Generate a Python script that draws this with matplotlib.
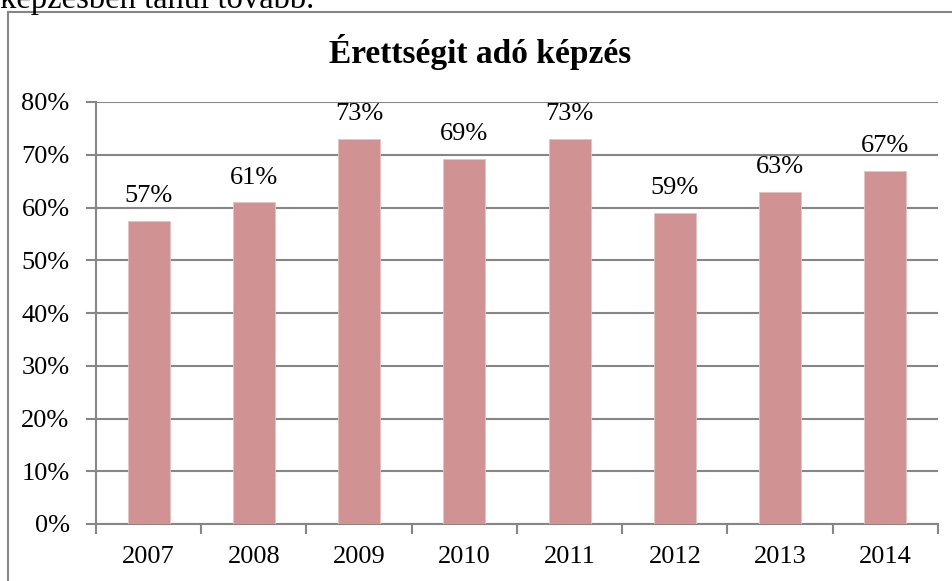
import matplotlib.pyplot as plt
from matplotlib.patches import Rectangle
from matplotlib.ticker import FuncFormatter
import numpy as np

# data
years = ['2007', '2008', '2009', '2010', '2011', '2012', '2013', '2014']
shares = [0.574, 0.61, 0.73, 0.692, 0.73, 0.59, 0.63, 0.67]
yticks = [0, 0.1, 0.2, 0.3, 0.4, 0.5, 0.6, 0.7, 0.8]

W, H = 953, 581
plt.rcParams['font.family'] = ['Liberation Serif', 'DejaVu Serif']

fig = plt.figure(figsize=(W / 100, H / 100), dpi=100)

grey = '#868686'
barColor = '#D09292'

# text from the page above the chart (cut at top)
fig.text(0, 1 - 8 / H, 'képzésben tanul tovább.', fontsize=23.5, va='baseline', ha='left')

# chart frame
frame = Rectangle((8 / W, -0.05), 1.2, 1 - 12 / H + 0.05, transform=fig.transFigure,
                  fill=False, edgecolor=grey, linewidth=1.5)
fig.patches.append(frame)

ax = fig.add_axes([96 / W, (H - 524) / H, (938 - 96) / W, (524 - 102) / H])
x = np.arange(len(years))
bars = ax.bar(x, shares, width=0.4, color=barColor, edgecolor='#E6C4C4', linewidth=0.6, zorder=3)

for xi, v in zip(x, shares):
    ax.text(xi, v + 0.026, '%d%%' % round(v * 100), ha='center', va='bottom', fontsize=19)

ax.set_xlim(-0.5, len(years) - 0.5)
ax.set_ylim(0, 0.8)
ax.set_yticks(yticks)
ax.yaxis.set_major_formatter(FuncFormatter(lambda v, p: '%d%%' % round(v * 100)))
ax.yaxis.grid(True, color=grey, linewidth=1.5, zorder=0)
ax.set_axisbelow(True)

ax.set_xticks(np.arange(-0.5, len(years), 1))
ax.set_xticklabels([])
ax.set_xticks(x, minor=True)
ax.set_xticklabels(years, minor=True)
ax.tick_params(axis='x', which='minor', length=0, labelsize=19, pad=16)
ax.tick_params(axis='x', which='major', length=7, width=1.5, color=grey, direction='out')
ax.tick_params(axis='y', length=7, width=1.5, color=grey, direction='out', labelsize=19, pad=12)

for s in ['top', 'right']:
    ax.spines[s].set_visible(False)
for s in ['left', 'bottom']:
    ax.spines[s].set_color(grey)
    ax.spines[s].set_linewidth(1.5)

fig.text(480 / W, 1 - 52 / H, 'Érettségit adó képzés', fontsize=24, fontweight='bold',
         ha='center', va='center')

fig.savefig('out.png', dpi=100)
